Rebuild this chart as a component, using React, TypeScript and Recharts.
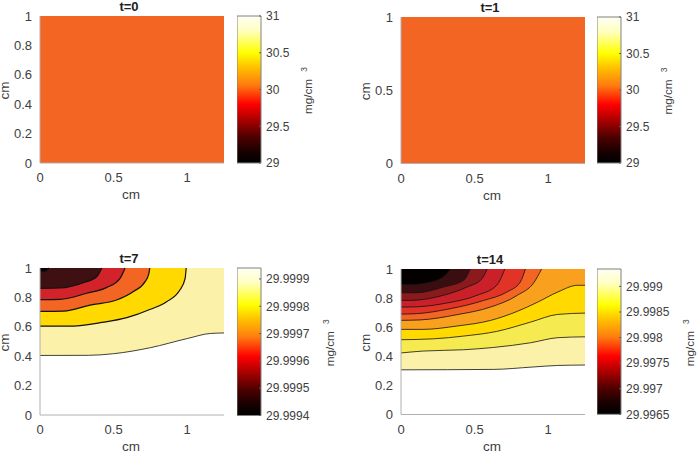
import { ComposedChart, Area, XAxis, YAxis, ReferenceArea } from "recharts";

const xTicks = [0, 0.5, 1];
const yTicksFine = [0, 0.2, 0.4, 0.6, 0.8, 1];
const yTicksCoarse = [0, 0.5, 1];

// flat fields at t=0 and t=1
const flatField = [[0, 1], [1.25, 1]];

// contour lines [x, y], outermost first, t=7
const t7Level1 = [[0, 0.405], [0.33, 0.406], [0.5, 0.417], [0.75, 0.458], [1, 0.52], [1.16, 0.555], [1.25, 0.558]];
const t7Level2 = [[0, 0.604], [0.227, 0.605], [0.41, 0.628], [0.59, 0.662], [0.75, 0.719], [0.86, 0.771], [0.95, 0.85], [0.986, 0.93], [0.993, 1]];
const t7Level3 = [[0, 0.705], [0.16, 0.707], [0.34, 0.748], [0.52, 0.782], [0.635, 0.84], [0.714, 0.907], [0.74, 0.964], [0.746, 1]];
const t7Level4 = [[0, 0.785], [0.136, 0.787], [0.317, 0.828], [0.454, 0.868], [0.544, 0.93], [0.578, 1]];
const t7Level5 = [[0, 0.862], [0.136, 0.864], [0.295, 0.9], [0.385, 0.94], [0.42, 1]];
const t7Level6 = [[0, 0.98], [0.03, 0.975], [0.06, 1]];
const t7Levels = [t7Level1, t7Level2, t7Level3, t7Level4, t7Level5, t7Level6];
const t7Colors = ["#FBF1A9", "#FFD900", "#F26522", "#D2232A", "#3F1012", "#0A0000"];

// contour lines, t=14
const t14Level1 = [[0, 0.307], [0.63, 0.31], [0.89, 0.326], [1.065, 0.337], [1.25, 0.34]];
const t14Level2 = [[0, 0.423], [0.15, 0.436], [0.425, 0.445], [0.63, 0.461], [0.88, 0.493], [1.065, 0.528], [1.25, 0.534]];
const t14Level3 = [[0, 0.514], [0.22, 0.52], [0.425, 0.539], [0.65, 0.571], [0.88, 0.635], [1.065, 0.688], [1.25, 0.697]];
const t14Level4 = [[0, 0.585], [0.15, 0.585], [0.38, 0.608], [0.61, 0.647], [0.79, 0.709], [0.93, 0.773], [1.065, 0.842], [1.2, 0.888], [1.25, 0.888]];
const t14Level5 = [[0, 0.647], [0.13, 0.65], [0.38, 0.686], [0.61, 0.739], [0.79, 0.819], [0.905, 0.91], [0.955, 1]];
const t14Level6 = [[0, 0.69], [0.105, 0.693], [0.334, 0.727], [0.562, 0.784], [0.72, 0.842], [0.81, 0.91], [0.845, 1]];
const t14Level7 = [[0, 0.738], [0.105, 0.74], [0.31, 0.766], [0.516, 0.819], [0.65, 0.888], [0.705, 1]];
const t14Level8 = [[0, 0.784], [0.06, 0.784], [0.288, 0.819], [0.448, 0.876], [0.55, 0.933], [0.585, 1]];
const t14Level9 = [[0, 0.837], [0.105, 0.837], [0.288, 0.876], [0.425, 0.922], [0.47, 1]];
const t14Level10 = [[0, 0.894], [0.08, 0.894], [0.197, 0.91], [0.3, 0.957], [0.334, 1]];
const t14Levels = [t14Level1, t14Level2, t14Level3, t14Level4, t14Level5, t14Level6, t14Level7, t14Level8, t14Level9, t14Level10];
const t14Colors = ["#FBF1A9", "#F5EA50", "#FFD900", "#F9A11F", "#F26522", "#E23327", "#C9202A", "#8A1A1C", "#3A0E10", "#050000"];

// colorbar ranges and ticks
const ticksT0 = [29, 29.5, 30, 30.5, 31];
const ticksT7 = [29.9994, 29.9995, 29.9996, 29.9997, 29.9998, 29.9999];
const ticksT14 = [29.9965, 29.997, 29.9975, 29.998, 29.9985, 29.999];

const FONT = "'Liberation Sans', Arial, sans-serif";
const TEXT = "#404040";
const AXIS = "#B0B0B0";

const hotStops: [string, string][] = [
  ["0%", "#FFFFF5"],
  ["10%", "#FFFFC0"],
  ["25%", "#FFFF00"],
  ["35%", "#FFC000"],
  ["47%", "#FF7A10"],
  ["60%", "#FF0000"],
  ["70%", "#B00000"],
  ["82%", "#500000"],
  ["93%", "#150000"],
  ["100%", "#000000"],
];

function toPoints(line: number[][]) {
  return line.map(([x, y]) => ({ x, y }));
}

function ContourPlot({ left, top, height, title, yTicks, levels, colors, strokeWidth }: {
  left: number; top: number; height: number; title: string; yTicks: number[];
  levels: number[][][]; colors: string[]; strokeWidth: number;
}) {
  const tickStyle = { fill: TEXT, fontSize: 13, fontFamily: FONT };
  return (
    <div style={{ position: "absolute", left: left - 40, top: top - 16 }}>
      <ComposedChart width={226} height={height + 60} margin={{ top: 16, right: 2, bottom: 0, left: 0 }}>
        <XAxis type="number" dataKey="x" domain={[0, 1.25]} ticks={xTicks} height={44} stroke={AXIS} tickLine={false} tickSize={0} tickMargin={10} tick={tickStyle} allowDuplicatedCategory={false} />
        <YAxis type="number" dataKey="y" domain={[0, 1]} ticks={yTicks} width={40} stroke={AXIS} tickLine={false} tickSize={0} tickMargin={8} tick={tickStyle} />
        {levels.map((line, i) => (
          <Area
            key={i}
            data={toPoints(line)}
            dataKey="y"
            type="monotoneX"
            baseValue={levels.length === 1 ? 0 : 1}
            fill={colors[i]}
            fillOpacity={1}
            stroke={levels.length === 1 ? "none" : "#111111"}
            strokeWidth={i === 0 ? 0.8 : strokeWidth}
            dot={false}
            activeDot={false}
            isAnimationActive={false}
          />
        ))}
        <text x={129} y={11} textAnchor="middle" fontFamily={FONT} fontSize={13} fontWeight="bold" fill="#222222">{title}</text>
        <text x={131} y={height + 16 + 36} textAnchor="middle" fontFamily={FONT} fontSize={13.5} fill={TEXT}>cm</text>
        <text transform={`translate(9 ${16 + height / 2 + 1}) rotate(-90)`} textAnchor="middle" fontFamily={FONT} fontSize={13.5} fill={TEXT}>cm</text>
      </ComposedChart>
    </div>
  );
}

function ColorBar({ id, left, top, height, min, max, ticks, labelX }: {
  id: string; left: number; top: number; height: number; min: number; max: number; ticks: number[]; labelX: number;
}) {
  const data = [{ x: 0, top: max }, { x: 1, top: max }];
  return (
    <div style={{ position: "absolute", left, top: top - 16 }}>
      <ComposedChart width={100} height={height + 53} data={data} margin={{ top: 16, right: 0, bottom: 37, left: 0 }}>
        <defs>
          <linearGradient id={id} x1="0" y1="0" x2="0" y2="1">
            {hotStops.map(([offset, color]) => <stop key={offset} offset={offset} stopColor={color} />)}
          </linearGradient>
        </defs>
        <XAxis type="number" dataKey="x" domain={[0, 1]} hide />
        <YAxis orientation="right" type="number" domain={[min, max]} ticks={ticks} width={76} axisLine={false} stroke="#606060" tickSize={-2} tickMargin={7} allowDataOverflow tick={{ fill: TEXT, fontSize: 12, fontFamily: FONT }} />
        <Area dataKey="top" type="linear" baseValue={min} fill={`url(#${id})`} fillOpacity={1} stroke="none" dot={false} activeDot={false} isAnimationActive={false} />
        <ReferenceArea x1={0} x2={1} y1={min} y2={max} fill="none" stroke="#808080" strokeWidth={1} ifOverflow="visible" />
        <text transform={`translate(${labelX} ${16 + height / 2 + 7}) rotate(-90)`} textAnchor="middle" fontFamily={FONT} fontSize={11.7} fill={TEXT}>mg/cm</text>
        <text transform={`translate(${labelX - 5} ${16 + height / 2 - 20}) rotate(-90)`} textAnchor="middle" fontFamily={FONT} fontSize={8.5} fill={TEXT}>3</text>
      </ComposedChart>
    </div>
  );
}

export default function App() {
  return (
    <div style={{ position: "absolute", left: 0, top: 0, width: 697, height: 452, background: "#fff", overflow: "hidden" }}>
      <ContourPlot left={40} top={16} height={147} title="t=0" yTicks={yTicksFine} levels={[flatField]} colors={["#F26522"]} strokeWidth={0} />
      <ColorBar id="cb0" left={237} top={16} height={147} min={29} max={31} ticks={ticksT0} labelX={75} />
      <ContourPlot left={401.3} top={16.5} height={146.5} title="t=1" yTicks={yTicksCoarse} levels={[flatField]} colors={["#F26522"]} strokeWidth={0} />
      <ColorBar id="cb1" left={597} top={16.5} height={146} min={29} max={31} ticks={ticksT0} labelX={75} />
      <ContourPlot left={40} top={268} height={147} title="t=7" yTicks={yTicksFine} levels={t7Levels} colors={t7Colors} strokeWidth={1.2} />
      <ColorBar id="cb7" left={237} top={267.5} height={147.5} min={29.9994} max={29.99994} ticks={ticksT7} labelX={97} />
      <ContourPlot left={401.3} top={268.7} height={145.5} title="t=14" yTicks={yTicksFine} levels={t14Levels} colors={t14Colors} strokeWidth={0.8} />
      <ColorBar id="cb14" left={597} top={268.7} height={145.3} min={29.9965} max={29.99934} ticks={ticksT14} labelX={97} />
    </div>
  );
}
